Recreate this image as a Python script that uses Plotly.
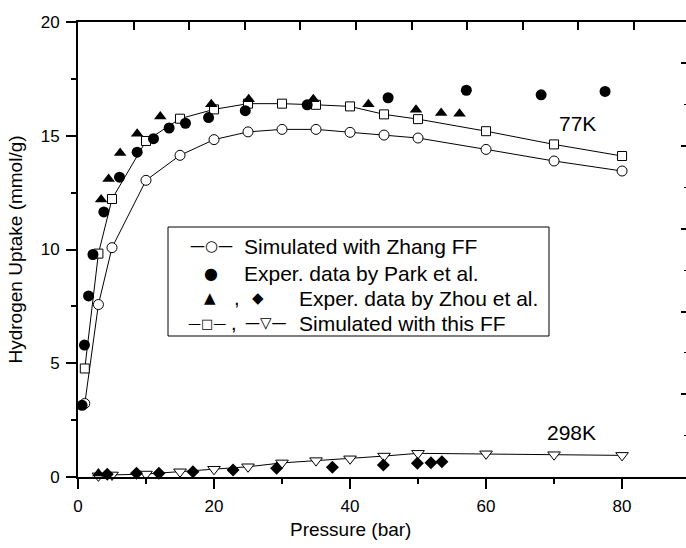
import plotly.graph_objects as go

# ---------------- data ----------------
p_sim77 = [1, 3, 5, 10, 15, 20, 25, 30, 35, 40, 45, 50, 60, 70, 80]
zhang_77 = [3.23, 7.58, 10.08, 13.04, 14.14, 14.83, 15.17, 15.28, 15.28, 15.15, 15.03, 14.90, 14.40, 13.89, 13.45]
thisff_77 = [4.77, 9.82, 12.22, 14.77, 15.75, 16.16, 16.41, 16.41, 16.36, 16.29, 15.94, 15.73, 15.20, 14.62, 14.11]

p_park = [0.6, 0.95, 1.55, 2.2, 3.8, 6.1, 8.7, 11.1, 13.4, 15.8, 19.2, 24.6, 33.7, 45.6, 57.1, 68.1, 77.5]
park_77 = [3.15, 5.80, 7.96, 9.78, 11.65, 13.18, 14.28, 14.87, 15.34, 15.55, 15.80, 16.10, 16.36, 16.67, 17.00, 16.80, 16.95]

p_zhou77 = [3.0, 3.4, 4.5, 6.2, 8.7, 12.1, 19.6, 25.1, 34.6, 42.7, 49.7, 53.4, 56.1]
zhou_77 = [0.15, 12.2, 13.1, 14.24, 15.09, 15.85, 16.38, 16.6, 16.6, 16.38, 16.14, 16.0, 15.97]

p_zhou298 = [4.3, 8.6, 11.9, 16.9, 22.8, 29.2, 37.4, 44.9, 49.9, 51.9, 53.5]
zhou_298 = [0.12, 0.16, 0.16, 0.23, 0.31, 0.38, 0.43, 0.53, 0.60, 0.63, 0.67]

p_sim298 = [3, 5, 10, 15, 20, 25, 30, 35, 40, 45, 50, 60, 70, 80]
thisff_298 = [0.05, 0.09, 0.13, 0.23, 0.34, 0.45, 0.62, 0.72, 0.80, 0.92, 1.04, 1.02, 0.98, 0.95]

x_ticks = [0, 20, 40, 60, 80]
y_ticks = [0, 5, 10, 15, 20]

legend_rows = ["Simulated with Zhang FF", "Exper. data by Park et al.",
               "Exper. data by Zhou et al.", "Simulated with this FF"]

# ---------------- layout geometry ----------------
W, H = 686, 548
PL, PT, PW, PH = 78, 22, 608, 455
FONT = "Arial, Liberation Sans, sans-serif"
SYM = "DejaVu Sans"


def px(x):
    return (x - PL) / PW


def py(y):
    return (PT + PH - y) / PH


fig = go.Figure()

line_style = dict(color="black", width=1)

fig.add_trace(go.Scatter(x=p_sim77, y=zhang_77, mode="lines+markers", line=line_style,
                         marker=dict(symbol="circle", size=10, color="white",
                                     line=dict(color="black", width=1)),
                         cliponaxis=False, showlegend=False))
fig.add_trace(go.Scatter(x=p_sim77, y=thisff_77, mode="lines+markers", line=line_style,
                         marker=dict(symbol="square", size=9, color="white",
                                     line=dict(color="black", width=1)),
                         cliponaxis=False, showlegend=False))
fig.add_trace(go.Scatter(x=p_sim298, y=thisff_298, mode="lines+markers", line=line_style,
                         marker=dict(symbol="triangle-down", size=11, color="white",
                                     line=dict(color="black", width=1)),
                         cliponaxis=False, showlegend=False))
fig.add_trace(go.Scatter(x=p_park, y=park_77, mode="markers",
                         marker=dict(symbol="circle", size=11, color="black"),
                         cliponaxis=False, showlegend=False))
fig.add_trace(go.Scatter(x=p_zhou77, y=zhou_77, mode="markers",
                         marker=dict(symbol="triangle-up", size=11, color="black"),
                         cliponaxis=False, showlegend=False))
fig.add_trace(go.Scatter(x=p_zhou298, y=zhou_298, mode="markers",
                         marker=dict(symbol="diamond", size=10, color="black"),
                         cliponaxis=False, showlegend=False))
# empty trace that carries the decorative top / right axes
fig.add_trace(go.Scatter(x=[], y=[], xaxis="x2", yaxis="y2", showlegend=False))

tickfont = dict(family=FONT, size=17, color="black")

fig.update_layout(
    width=W, height=H, autosize=False,
    margin=dict(l=PL, r=W - PL - PW, t=PT, b=H - PT - PH, pad=0),
    paper_bgcolor="white", plot_bgcolor="white",
    showlegend=False,
    xaxis=dict(range=[0, 89.4], tickvals=x_ticks, ticktext=[str(v) for v in x_ticks],
               ticks="outside", ticklen=10, tickwidth=2, tickcolor="black",
               minor=dict(dtick=10, tick0=0, ticks="outside", ticklen=5, tickwidth=2, tickcolor="black"),
               showline=True, linewidth=2, linecolor="black", showgrid=False, zeroline=False,
               tickfont=tickfont, ticklabelstandoff=3),
    yaxis=dict(range=[0, 20], tickvals=y_ticks, ticktext=[str(v) for v in y_ticks],
               ticks="outside", ticklen=10, tickwidth=2, tickcolor="black",
               minor=dict(dtick=2.5, tick0=0, ticks="outside", ticklen=5, tickwidth=2, tickcolor="black"),
               showline=True, linewidth=2, linecolor="black", showgrid=False, zeroline=False,
               tickfont=tickfont, ticklabelstandoff=3),
    xaxis2=dict(overlaying="x", side="top", anchor="y", range=[0, 10.935], dtick=1, tick0=0,
                ticks="inside", ticklen=8, tickwidth=2, tickcolor="black", showticklabels=False,
                showline=True, linewidth=2, linecolor="black", showgrid=False, zeroline=False),
    yaxis2=dict(overlaying="y", side="right", anchor="x", range=[0, 5.5], dtick=1, tick0=0,
                ticks="inside", ticklen=5, tickwidth=2, tickcolor="black", showticklabels=False,
                minor=dict(dtick=0.5, tick0=0, ticks="inside", ticklen=2, tickwidth=1, tickcolor="black"),
                showline=False, showgrid=False, zeroline=False),
)

annotations = []
# axis titles
annotations.append(dict(text="Pressure (bar)", xref="paper", yref="paper", x=px(350), y=py(529),
                        xanchor="center", yanchor="middle", showarrow=False,
                        font=dict(family=FONT, size=19, color="black")))
annotations.append(dict(text="Hydrogen Uptake (mmol/g)", xref="paper", yref="paper", x=px(15), y=0.5,
                        xanchor="center", yanchor="middle", textangle=-90, showarrow=False,
                        font=dict(family=FONT, size=19, color="black")))
# temperature labels
annotations.append(dict(text="77K", x=73.5, y=15.55, xref="x", yref="y", showarrow=False,
                        xanchor="center", yanchor="middle", font=dict(family=FONT, size=21, color="black")))
annotations.append(dict(text="298K", x=72.6, y=1.95, xref="x", yref="y", showarrow=False,
                        xanchor="center", yanchor="middle", font=dict(family=FONT, size=21, color="black")))

# legend box
fig.add_shape(type="rect", xref="paper", yref="paper", x0=px(168), x1=px(549), y0=py(336), y1=py(227),
              line=dict(color="black", width=1), fillcolor="rgba(0,0,0,0)", layer="above")

row_y = [246, 273, 298, 323]
text_x = [242, 242, 297, 297]
for label, ry, tx in zip(legend_rows, row_y, text_x):
    annotations.append(dict(text=label, xref="paper", yref="paper", x=px(tx), y=py(ry),
                            xanchor="left", yanchor="middle", showarrow=False,
                            font=dict(family=FONT, size=21, color="black")))

symbols = [
    ("—○—", 211, row_y[0], 15, SYM),
    ("●", 211, row_y[1], 16, SYM),
    ("▲", 210, row_y[2], 15, SYM),
    (",", 237, row_y[2], 20, FONT),
    ("◆", 258, row_y[2], 15, SYM),
    ("—□—", 207, row_y[3], 13, SYM),
    (",", 234, row_y[3], 20, FONT),
    ("—▽—", 266, row_y[3], 15, SYM),
]
for s, sx, sy, fs, fam in symbols:
    annotations.append(dict(text=s, xref="paper", yref="paper", x=px(sx), y=py(sy),
                            xanchor="center", yanchor="middle", showarrow=False,
                            font=dict(family=fam, size=fs, color="black")))

fig.update_layout(annotations=annotations)

fig.write_html("out.html")
